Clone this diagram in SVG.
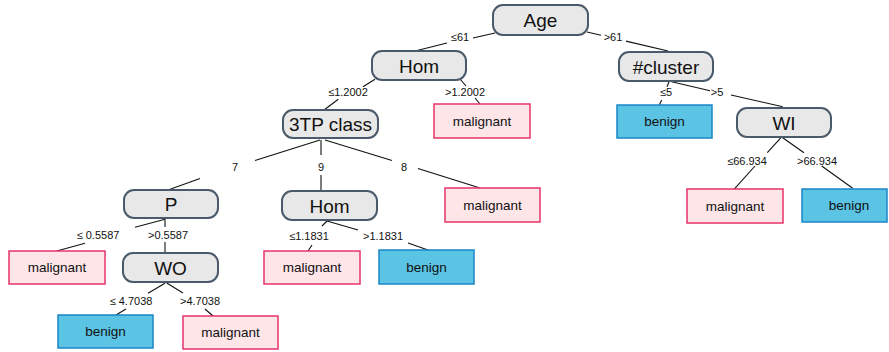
<svg xmlns="http://www.w3.org/2000/svg" width="889" height="352" viewBox="0 0 889 352">
<style>
.dec rect{fill:#e8e8e8;stroke:#4a5a6a;stroke-width:2}
.mal rect{fill:#fde5e8;stroke:#e6336b;stroke-width:1.5}
.ben rect{fill:#5bc3e3;stroke:#1a86c8;stroke-width:1.5}
.dec text{font-family:"Liberation Sans",Arial,sans-serif;font-size:19px;fill:#111;text-anchor:middle}
.mal text,.ben text{font-family:"Liberation Sans",Arial,sans-serif;font-size:13.5px;fill:#111;text-anchor:middle}
#connectors line{stroke:#111;stroke-width:1.1}
#connectors text{font-family:"Liberation Sans",Arial,sans-serif;font-size:11px;fill:#111;text-anchor:middle}
</style>
<rect width="889" height="352" fill="#ffffff"/>
<g id="connectors">
<line x1="495" y1="33" x2="473" y2="38"/><line x1="447" y1="43" x2="415" y2="51"/><text x="460" y="41">≤61</text>
<line x1="587" y1="32" x2="601" y2="35.3"/><line x1="626" y1="41.1" x2="668" y2="51"/><text x="613" y="41">&gt;61</text>
<line x1="375" y1="79.3" x2="363" y2="86.7"/><line x1="338.3" y1="99.3" x2="325" y2="109.3"/><text x="348" y="96">≤1.2002</text>
<line x1="460" y1="79" x2="466" y2="86"/><line x1="475" y1="98" x2="480" y2="104"/><text x="465" y="96">&gt;1.2002</text>
<line x1="320" y1="140" x2="255" y2="160.5"/><line x1="200" y1="178.5" x2="168" y2="190"/><text x="235" y="171">7</text>
<line x1="321" y1="140" x2="321" y2="155"/><line x1="321" y1="175" x2="321" y2="191"/><text x="321" y="171">9</text>
<line x1="325" y1="140" x2="392" y2="160.5"/><line x1="418" y1="168.5" x2="480" y2="188"/><text x="404" y="171">8</text>
<line x1="327" y1="221" x2="322" y2="226"/><line x1="312" y1="245" x2="308" y2="251"/><text x="309" y="240">≤1.1831</text>
<line x1="327" y1="221" x2="358" y2="230"/><line x1="408" y1="243" x2="428" y2="250"/><text x="383" y="240">&gt;1.1831</text>
<line x1="165" y1="219.3" x2="135" y2="227.3"/><line x1="85" y1="243.3" x2="56.7" y2="251"/><text x="98" y="239">≤ 0.5587</text>
<line x1="165" y1="219" x2="165" y2="227"/><line x1="165" y1="242" x2="165" y2="252"/><text x="168" y="239">&gt;0.5587</text>
<line x1="165" y1="283.3" x2="148" y2="293.3"/><line x1="126" y1="309" x2="116" y2="315"/><text x="131" y="305">≤ 4.7038</text>
<line x1="166.7" y1="283" x2="183" y2="293"/><line x1="205" y1="309" x2="213" y2="316"/><text x="200" y="305">&gt;4.7038</text>
<line x1="669" y1="81.7" x2="667" y2="86.7"/><line x1="661.7" y1="100" x2="659.3" y2="105"/><text x="666" y="96">≤5</text>
<line x1="671.7" y1="81.7" x2="710" y2="90.7"/><line x1="731" y1="95" x2="782.7" y2="106.7"/><text x="717" y="96">&gt;5</text>
<line x1="781" y1="137.7" x2="767.3" y2="152.7"/><line x1="755" y1="166" x2="734" y2="189.3"/><text x="747" y="165">≤66.934</text>
<line x1="782.7" y1="137.7" x2="804" y2="152.7"/><line x1="821.7" y1="166" x2="852.7" y2="188.3"/><text x="817" y="165">&gt;66.934</text>
</g>
<g id="n-age" class="dec"><rect x="493" y="5" width="95" height="30" rx="10"/><text x="540.5" y="27">Age</text></g>
<g id="n-hom1" class="dec"><rect x="372" y="51" width="94" height="29" rx="10"/><text x="419" y="72.5">Hom</text></g>
<g id="n-cluster" class="dec"><rect x="619" y="52" width="94" height="29" rx="10"/><text x="666" y="73.5">#cluster</text></g>
<g id="n-3tp" class="dec"><rect x="283" y="110" width="95" height="28" rx="10"/><text x="330.5" y="131">3TP class</text></g>
<g id="n-mal1" class="mal"><rect x="434" y="104" width="96" height="34"/><text x="482" y="126">malignant</text></g>
<g id="n-ben1" class="ben"><rect x="617" y="105" width="95" height="33"/><text x="664.5" y="126">benign</text></g>
<g id="n-wi" class="dec"><rect x="737" y="108" width="94" height="29" rx="10"/><text x="784" y="129.5">WI</text></g>
<g id="n-p" class="dec"><rect x="124" y="190" width="94" height="28" rx="10"/><text x="171" y="211">P</text></g>
<g id="n-hom2" class="dec"><rect x="282" y="191" width="95" height="29" rx="10"/><text x="329.5" y="212.5">Hom</text></g>
<g id="n-mal2" class="mal"><rect x="445" y="188" width="95" height="34"/><text x="492.5" y="210">malignant</text></g>
<g id="n-mal6" class="mal"><rect x="687" y="189" width="96" height="34"/><text x="735" y="211">malignant</text></g>
<g id="n-ben4" class="ben"><rect x="802" y="189" width="85" height="33"/><text x="849" y="210">benign</text></g>
<g id="n-mal4" class="mal"><rect x="9" y="251" width="96" height="33"/><text x="57" y="272">malignant</text></g>
<g id="n-wo" class="dec"><rect x="123" y="253" width="95" height="29" rx="10"/><text x="170.5" y="274.5">WO</text></g>
<g id="n-mal3" class="mal"><rect x="264" y="251" width="96" height="33"/><text x="312" y="272">malignant</text></g>
<g id="n-ben2" class="ben"><rect x="379" y="250" width="95" height="34"/><text x="426.5" y="272">benign</text></g>
<g id="n-ben3" class="ben"><rect x="58" y="315" width="95" height="33"/><text x="105.5" y="336">benign</text></g>
<g id="n-mal5" class="mal"><rect x="183" y="316" width="95" height="33"/><text x="230.5" y="337">malignant</text></g>
</svg>
